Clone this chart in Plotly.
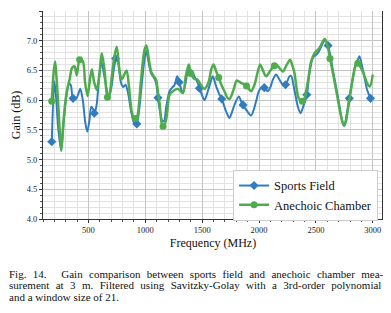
import plotly.graph_objects as go

# ---- data ----
sf_freq = [177, 200, 215, 235, 260, 285, 305, 330, 345, 364, 390, 410, 428, 450, 470, 489, 508, 524, 540, 551,
           570, 590, 612, 635, 658, 676, 700, 725, 744, 760, 785, 805, 826, 850, 876, 900, 920, 940, 965, 990,
           1008, 1030, 1051, 1075, 1095, 1111, 1130, 1150, 1165, 1183, 1213, 1240, 1256, 1280, 1298, 1330, 1355,
           1374, 1397, 1432, 1467, 1495, 1520, 1545, 1564, 1593, 1623, 1650, 1672, 1710, 1740, 1762, 1784, 1822,
           1851, 1886, 1930, 1955, 1974, 2003, 2039, 2077, 2100, 2121, 2150, 2175, 2200, 2233, 2267, 2282, 2311,
           2340, 2365, 2390, 2420, 2444, 2473, 2517, 2561, 2582, 2607, 2630, 2649, 2693, 2737, 2751, 2770, 2794,
           2839, 2869, 2883, 2913, 2951, 2980]
sf_gain = [5.30, 6.32, 6.05, 5.50, 5.15, 5.70, 6.05, 6.28, 6.25, 6.03, 6.02, 6.10, 6.19, 6.00, 5.65, 5.47, 5.65, 5.89, 5.85, 5.78,
           5.90, 6.30, 6.65, 6.45, 6.20, 6.05, 6.20, 6.55, 6.72, 6.65, 6.30, 6.22, 6.26, 6.10, 5.80, 5.62, 5.58, 5.75, 6.20, 6.65,
           6.83, 6.62, 6.45, 6.38, 6.29, 6.04, 5.80, 5.65, 5.65, 5.88, 6.15, 6.22, 6.25, 6.40, 6.30, 6.12, 6.30,
           6.48, 6.51, 6.40, 6.26, 6.10, 6.00, 6.12, 6.24, 6.40, 6.23, 6.10, 6.02, 5.81, 5.70, 5.80, 5.92, 6.06,
           5.94, 5.84, 5.74, 5.85, 5.98, 6.17, 6.22, 6.15, 6.22, 6.34, 6.43, 6.36, 6.28, 6.26, 6.40, 6.41, 6.17,
           5.90, 5.78, 5.90, 6.09, 6.46, 6.71, 6.79, 6.96, 7.02, 6.92, 6.72, 6.51, 6.06, 5.61, 5.57, 5.75, 6.03,
           6.51, 6.68, 6.74, 6.51, 6.17, 6.03]
sf_mark_freq = [177, 364, 551, 738, 925, 1111, 1298, 1475, 1672, 1859, 2046, 2233, 2420, 2607, 2794, 2980]
sf_mark_gain = [5.30, 6.03, 5.78, 6.70, 5.60, 6.04, 6.30, 6.20, 6.02, 5.92, 6.21, 6.26, 6.09, 6.92, 6.03, 6.03]

ac_freq = [177, 195, 207, 218, 232, 245, 260, 278, 298, 315, 333, 355, 377, 397, 422, 450, 470, 492, 510, 529,
           550, 573, 597, 617, 641, 655, 667, 685, 705, 728, 749, 772, 790, 802, 835, 855, 881, 905, 920, 934,
           960, 993, 1010, 1030, 1051, 1075, 1095, 1110, 1125, 1145, 1160, 1183, 1213, 1242, 1286, 1330, 1355,
           1382, 1401, 1430, 1462, 1490, 1520, 1545, 1564, 1580, 1600, 1620, 1645, 1670, 1696, 1718, 1740, 1775,
           1804, 1842, 1890, 1930, 1960, 1985, 2009, 2030, 2062, 2100, 2135, 2150, 2175, 2209, 2245, 2273, 2290,
           2311, 2330, 2349, 2380, 2400, 2429, 2458, 2488, 2532, 2576, 2605, 2624, 2650, 2678, 2722, 2746, 2765,
           2781, 2825, 2854, 2869, 2913, 2957, 2975, 3000]
ac_gain = [5.98, 6.50, 6.65, 6.40, 6.00, 5.55, 5.15, 5.60, 6.00, 6.20, 6.34, 6.54, 6.57, 6.42, 6.68, 6.66, 6.30, 6.07, 6.30, 6.52,
           6.30, 6.17, 6.46, 6.79, 6.51, 6.20, 6.05, 6.10, 6.40, 6.74, 6.90, 6.51, 6.35, 6.38, 6.50, 6.25, 5.80, 5.68, 5.70, 5.76,
           6.30, 6.85, 6.92, 6.70, 6.48, 6.40, 6.34, 6.15, 5.95, 5.60, 5.56, 5.67, 6.09, 6.15, 6.19, 6.12, 6.40,
           6.60, 6.45, 6.36, 6.34, 6.25, 6.19, 6.25, 6.36, 6.52, 6.60, 6.50, 6.38, 6.25, 6.15, 6.05, 6.02, 6.17,
           6.33, 6.29, 6.24, 6.15, 6.26, 6.45, 6.60, 6.52, 6.40, 6.50, 6.58, 6.60, 6.55, 6.48, 6.60, 6.68, 6.60,
           6.46, 6.20, 6.03, 5.98, 6.03, 6.31, 6.65, 6.79, 6.88, 7.03, 6.90, 6.70, 6.45, 6.17, 5.72, 5.57, 5.65,
           5.84, 6.37, 6.62, 6.62, 6.48, 6.26, 6.23, 6.43]
ac_mark_freq = [177, 422, 667, 911, 1156, 1401, 1645, 1890, 2135, 2380, 2624, 2869]
ac_mark_gain = [5.98, 6.68, 6.05, 5.69, 5.56, 6.45, 6.38, 6.24, 6.58, 5.98, 6.70, 6.62]

x_ticks = [500, 1000, 1500, 2000, 2500, 3000]
y_ticks = [4.0, 4.5, 5.0, 5.5, 6.0, 6.5, 7.0, 7.5]

caption_lines = [
    "Fig. 14.  Gain comparison between sports field and anechoic chamber mea-",
    "surement at 3 m. Filtered using Savitzky-Golay with a 3rd-order polynomial",
    "and a window size of 21.",
]

BLUE = "#2f7dc0"
GREEN = "#4fac4c"
FONT = "Liberation Serif, Times New Roman, serif"

fig = go.Figure()
# Sports Field
fig.add_trace(go.Scatter(x=sf_freq, y=sf_gain, mode="lines", line=dict(color=BLUE, width=2, shape="spline", smoothing=0.8),
                         showlegend=False, hoverinfo="skip"))
fig.add_trace(go.Scatter(x=sf_mark_freq, y=sf_mark_gain, mode="markers",
                         marker=dict(symbol="diamond", size=7, color=BLUE), showlegend=False))
# Anechoic Chamber
fig.add_trace(go.Scatter(x=ac_freq, y=ac_gain, mode="lines", line=dict(color=GREEN, width=2.5, shape="spline", smoothing=0.8),
                         showlegend=False, hoverinfo="skip"))
fig.add_trace(go.Scatter(x=ac_mark_freq, y=ac_mark_gain, mode="markers",
                         marker=dict(symbol="circle", size=7, color=GREEN), showlegend=False))
# legend entries
fig.add_trace(go.Scatter(x=[None], y=[None], mode="lines+markers", name="Sports Field",
                         line=dict(color=BLUE, width=2), marker=dict(symbol="diamond", size=7, color=BLUE)))
fig.add_trace(go.Scatter(x=[None], y=[None], mode="lines+markers", name="Anechoic Chamber",
                         line=dict(color=GREEN, width=2.5), marker=dict(symbol="circle", size=7, color=GREEN)))

# the page body has an 8 px default margin, so the figure is 8 px smaller
fig.update_layout(
    template="none",
    width=383, height=305,
    margin=dict(l=35, r=8, t=3, b=94, autoexpand=False),
    paper_bgcolor="white", plot_bgcolor="white",
    font=dict(family=FONT, color="#222222"),
    legend=dict(x=0.559, y=0.236, xanchor="left", yanchor="top",
                bgcolor="white", bordercolor="#cccccc", borderwidth=1,
                font=dict(family=FONT, size=12.5, color="#111111"),
                tracegroupgap=0, itemwidth=30),
    showlegend=True,
)

fig.update_xaxes(
    automargin=False,
    range=[100, 3090], tickvals=x_ticks, ticktext=[str(v) for v in x_ticks],
    showgrid=True, gridcolor="#c4c4c4", gridwidth=1,
    showline=True, linecolor="#333333", linewidth=1,
    ticks="outside", ticklen=3, tickcolor="#333333",
    tickfont=dict(family=FONT, size=8.5, color="#222222"),
    minor=dict(dtick=100, showgrid=True, gridcolor="#e2e2e2", ticks="outside", ticklen=2, tickcolor="#555555"),
    title=dict(text="Frequency (MHz)", font=dict(family=FONT, size=12, color="#111111"), standoff=4),
    zeroline=False,
)
fig.update_yaxes(
    automargin=False,
    range=[4.0, 7.5], tickvals=y_ticks, ticktext=["%.1f" % v for v in y_ticks],
    showgrid=True, gridcolor="#c4c4c4", gridwidth=1,
    showline=True, linecolor="#333333", linewidth=1,
    ticks="outside", ticklen=3, tickcolor="#333333",
    tickfont=dict(family=FONT, size=8.5, color="#222222"),
    minor=dict(dtick=0.1, showgrid=True, gridcolor="#e2e2e2", ticks="outside", ticklen=2, tickcolor="#555555"),
    title=dict(text="Gain (dB)", font=dict(family=FONT, size=12, color="#111111"), standoff=3),
    zeroline=False,
)

# right-hand frame edge
fig.add_shape(type="line", xref="paper", yref="paper", x0=1, x1=1, y0=0, y1=1,
              line=dict(color="#333333", width=2))

# caption: first two lines are justified (wider word gaps), last is ragged
GAP = "\u2004\u2005"
cap_text = [
    caption_lines[0].replace("  ", "\u2003\u2004").replace(" ", GAP),
    caption_lines[1].replace(" ", GAP),
    caption_lines[2],
]
cap_y = [-(273.5 - 219) / 208, -(285 - 219) / 208, -(296.5 - 219) / 208]
for txt, yy in zip(cap_text, cap_y):
    fig.add_annotation(text=txt, xref="paper", yref="paper", x=-35 / 340, y=yy,
                       xanchor="left", yanchor="middle", showarrow=False, borderpad=0,
                       font=dict(family=FONT, size=11, color="#111111"))

fig.write_html("out.html")
